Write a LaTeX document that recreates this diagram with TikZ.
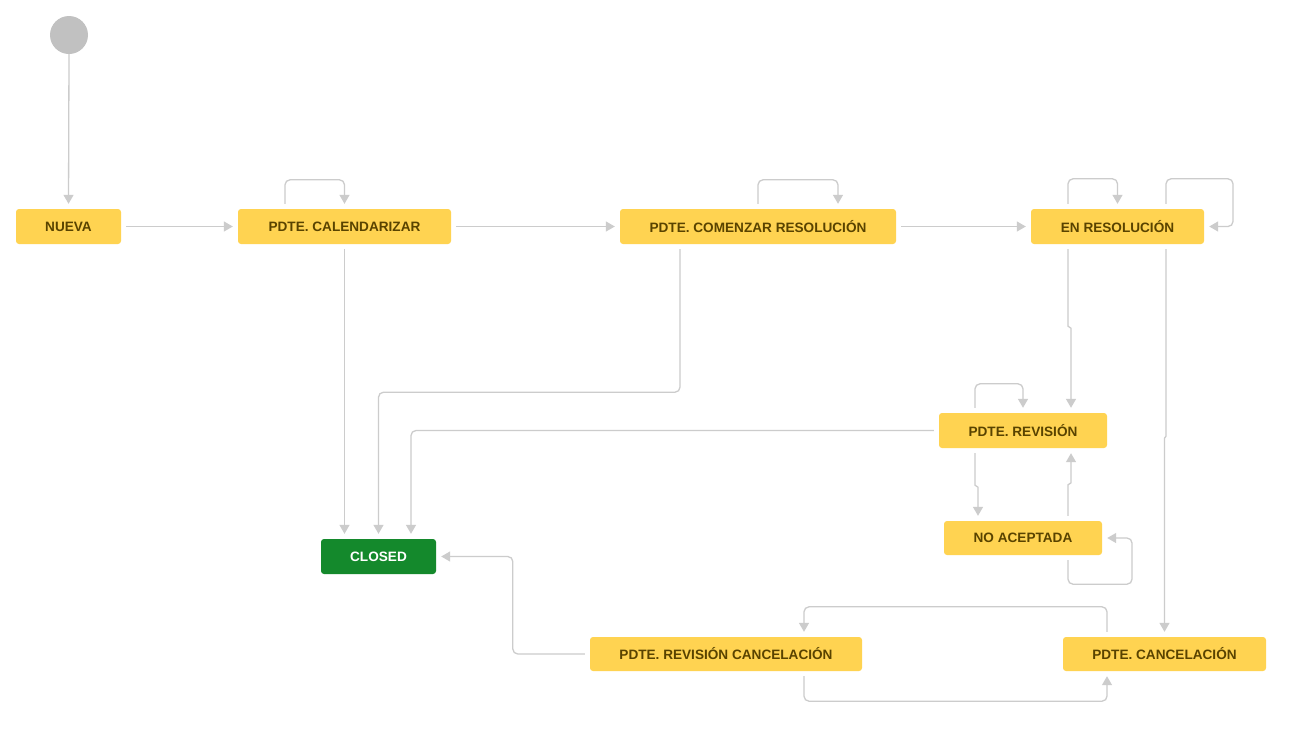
\documentclass[tikz,border=0pt]{standalone}
\usepackage{fontspec}
\setmainfont{Liberation Sans}
\usetikzlibrary{arrows.meta,calc}
\definecolor{stYellow}{HTML}{FFD351}
\definecolor{stText}{HTML}{594300}
\definecolor{stGreen}{HTML}{14892C}
\definecolor{stLine}{HTML}{CCCCCC}
\definecolor{stStart}{HTML}{C1C1C1}
\tikzset{
  statebox/.style={draw=none, fill=stYellow, rounded corners=3pt, inner sep=0pt,
    minimum height=35pt, text=stText, font=\bfseries\fontsize{13.6}{16}\selectfont},
  donebox/.style={statebox, fill=stGreen, text=white},
  arr/.style={draw=stLine, line width=1.3pt, rounded corners=5pt,
    -{Triangle[length=9pt,width=10pt]}, shorten >=5pt, shorten <=5pt},
}
\begin{document}
\begin{tikzpicture}[x=1pt,y=1pt]
\useasboundingbox (0,0) rectangle (1314,-732);
\fill[white] (0,0) rectangle (1314,-732);

\node[circle, fill=stStart, minimum size=38pt, inner sep=0pt] (start) at (69,-35) {};
\node[statebox, minimum width=105pt] (nueva) at (68.5,-226.5) {NUEVA};
\node[statebox, minimum width=213pt] (cal) at (344.5,-226.5) {PDTE. CALENDARIZAR};
\node[statebox, minimum width=276pt] (com) at (758,-226.5) {PDTE. COMENZAR RESOLUCIÓN};
\node[statebox, minimum width=173pt] (enr) at (1117.5,-226.5) {EN RESOLUCIÓN};
\node[statebox, minimum width=168pt] (rev) at (1023,-430.5) {PDTE. REVISIÓN};
\node[statebox, minimum width=158pt, minimum height=34pt] (noa) at (1023,-538) {NO ACEPTADA};
\node[donebox, minimum width=115pt] (closed) at (378.5,-556.5) {CLOSED};
\node[statebox, minimum width=272pt, minimum height=34pt] (revc) at (726,-654) {PDTE. REVISIÓN CANCELACIÓN};
\node[statebox, minimum width=203pt, minimum height=34pt] (canc) at (1164.5,-654) {PDTE. CANCELACIÓN};

% main flow
\draw[arr, shorten <=0pt] (start.south) -- (nueva.north);
\draw[arr] (nueva.east) -- (cal.west);
\draw[arr] (cal.east) -- (com.west);
\draw[arr] (com.east) -- (enr.west);

% self loops
\draw[arr] ([xshift=-59.5pt]cal.north) -- ++(0,29) -| (cal.north);
\draw[arr] (com.north) -- ++(0,29) -| ([xshift=80pt]com.north);
\draw[arr] ([xshift=-49.5pt]enr.north) -- ++(0,30) -| (enr.north);
\draw[arr] ([xshift=48.5pt]enr.north) -- ++(0,30) -- ++(67,0) |- (enr.east);
\draw[arr] ([xshift=-48pt]rev.north) -- ++(0,29) -| (rev.north);
\draw[arr] ([xshift=45pt]noa.south) -- ++(0,-29) -- ++(64,0) |- (noa.east);

% to CLOSED
\draw[arr] (cal.south) -- (cal.south |- closed.north);
\draw[arr] ([xshift=-78pt]com.south) -- ++(0,-148) -| (closed.north);
\draw[arr] (rev.west) -| ([xshift=32.5pt]closed.north);
\draw[arr] (revc.west) -- ++(-77,0) |- (closed.east);

% from EN RESOLUCION
\draw[arr, rounded corners=0pt] ([xshift=-49.5pt]enr.south) -- ++(0,-82) -- ++(3,-2) -- ([xshift=48pt]rev.north);
\draw[arr, rounded corners=0pt] ([xshift=48.5pt]enr.south) -- ++(0,-192) -- ++(-1.5,-2) -- (canc.north);

% revision <-> no aceptada
\draw[arr, rounded corners=0pt] ([xshift=-48pt]rev.south) -- ++(0,-37) -- ++(3,-2) -- ([xshift=-45pt]noa.north);
\draw[arr, rounded corners=0pt] ([xshift=45pt]noa.north) -- ++(0,36) -- ++(3,2) -- ([xshift=48pt]rev.south);

% cancelacion loop
\draw[arr] ([xshift=-57.5pt]canc.north) -- ++(0,30) -| ([xshift=78pt]revc.north);
\draw[arr] ([xshift=78pt]revc.south) -- ++(0,-30) -| ([xshift=-57.5pt]canc.south);
\end{tikzpicture}
\end{document}
